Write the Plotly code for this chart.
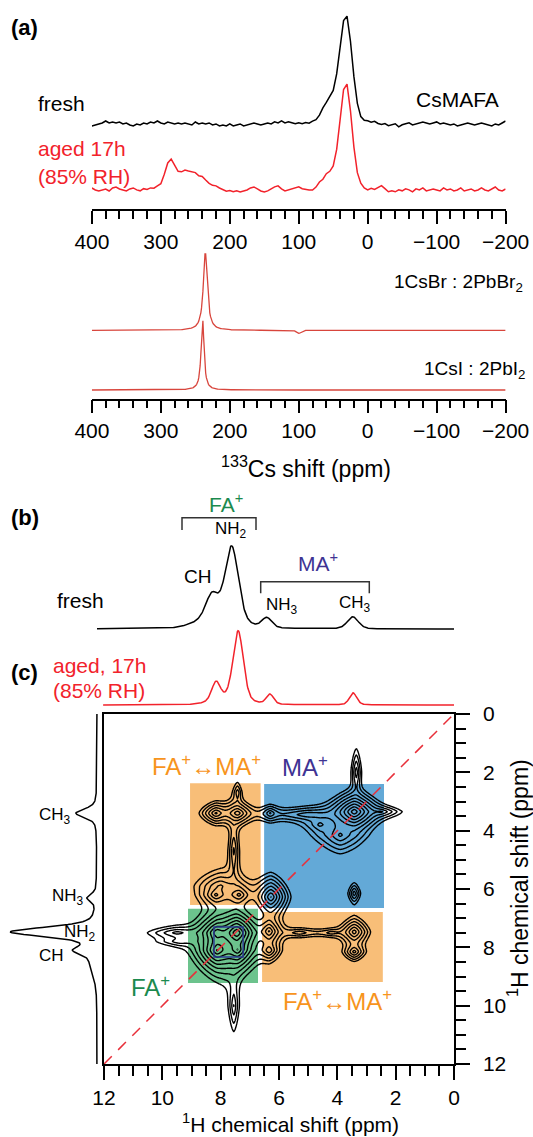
import numpy as np
import plotly.graph_objects as go

W, H = 533, 1137
FONT = "Liberation Sans, Arial, sans-serif"


def fx(px):
    return px / W


def fy(py):
    return 1 - py / H


# ------------------------------------------------------------------ data
# (a) 133Cs spectra, sampled every 5 ppm from 400 to -200 ppm
cs_ppm = np.linspace(400, -200, 121)
cs_fresh_noise = [
    -2, -1, 0, 1, 3, 1, 2, 1, 2, 0,
    1, -1, -2, 0, -1, 1, 0, 2, 1, 3,
    1, 0, 2, 1, 0, 1, 0, 1, 0, -1,
    2, 0, 1, 0, 1, -1, 0, -2, -1, -2,
    0, -2, -1, 0, -2, -1, 0, 1, 0, -1,
    0, 1, 0, 2, 1, 3, 1, 2, 1, 0,
    1, 0, 1, 0, 1, 0, 0, 1, 0, 1,
    0, 1, 0, 0, 0, 0, 0, 0, 0, 1,
    2, 1, 2, 0, -1, 0, -2, -1, 0, -3,
    -1, 0, 1, -1, 0, 1, 2, 1, 0, 1,
    2, 0, 1, 0, -1, 0, -2, -1, 0, 1,
    0, -1, 0, 1, 0, -1, -2, 0, -1, 1,
    3]
cs_aged_noise = [
    2, 0, -1, 0, 1, -1, 2, 3, 1, 0,
    -1, 1, 2, 0, -1, 1, 0, 1, 0, 1,
    0, 1, 0, 0, 1, 0, 0, 1, 0, 0,
    1, 0, 2, 1, 0, 0, 1, 0, -1, -2,
    -1, -2, -1, -2, -1, 0, 2, 3, 1, -1,
    -2, -1, 1, 3, 4, 1, -1, 0, 1, 2,
    3, 1, 0, -1, -2, -1, 1, 0, 2, 1,
    0, 0, 0, 0, 0, 0, 0, 0, 1, 0,
    -1, 1, 0, 2, 4, 1, -2, -1, -2, 0,
    -1, 1, 0, -2, 1, 0, 2, -1, 0, 1,
    0, -1, 2, 0, 1, -1, 0, 2, -1, 0,
    1, -1, 0, 2, 0, -1, 1, 3, 0, -1,
    1]
cs_fresh_center = [31.5, 55.0]
cs_fresh_fwhm = [21.0, 25.0]
cs_fresh_height = [108.0, 22.0]
cs_fresh_eta = [0.1, 0.0]

cs_aged_center = [31.5, 55.0, 287.0, 262.0]
cs_aged_fwhm = [20.0, 28.0, 14.0, 52.0]
cs_aged_height = [106.0, 14.0, 21.0, 19.0]
cs_aged_eta = [0.1, 0.0, 0.0, 0.0]

# reference salts, sampled every 1 ppm
ref_ppm = np.linspace(400, -200, 601)
csbr_center = [235.5, 100.0]
csbr_fwhm = [7.0, 8.0]
csbr_height = [78.0, -3.0]
csbr_eta = [1.0, 0.0]
csi_center = [239.5]
csi_fwhm = [5.0]
csi_height = [72.0]
csi_eta = [1.0]

# (b),(c) 1H spectra (ppm)
h_fresh_ppm = np.linspace(12.24, 0.0, 613)
h_fresh_center = [7.62, 8.30, 8.30, 6.42, 3.47]
h_fresh_fwhm = [0.55, 0.50, 1.40, 0.40, 0.45]
h_fresh_height = [78.0, 24.0, 8.0, 10.0, 12.0]
h_fresh_eta = [0.4, 0.3, 0.0, 0.3, 0.3]

h_aged_ppm = np.linspace(12.03, 0.0, 602)
h_aged_center = [7.40, 8.16, 7.80, 6.31, 3.46]
h_aged_fwhm = [0.42, 0.35, 1.20, 0.30, 0.30]
h_aged_height = [71.0, 19.0, 4.0, 10.0, 12.0]
h_aged_eta = [0.35, 0.3, 0.0, 0.3, 0.3]

# projection on the left of the 2D map
proj_ppm = np.linspace(0.0, 12.0, 601)
proj_center = [7.47, 8.10, 8.40, 6.30, 3.40]
proj_fwhm = [0.38, 0.30, 1.20, 0.30, 0.35]
proj_height = [85.0, 16.0, 6.0, 9.0, 21.0]
proj_eta = [0.5, 0.4, 0.0, 0.4, 0.6]

# 2D 1H-1H correlation peaks: position (ppm), widths (ppm), amplitude
pk_x = [7.45, 7.85, 8.12, 8.12, 7.42, 9.50, 9.40, 7.55,
        8.16, 7.37, 8.00,
        8.16, 7.42, 7.42, 7.55,
        6.30, 6.34, 6.34, 5.30, 4.20,
        6.28,
        3.42, 3.35, 2.50, 5.00, 3.90, 4.60,
        3.42, 3.42, 3.42]
pk_y = [7.50, 7.90, 8.10, 7.50, 8.08, 7.50, 7.80, 10.0,
        6.20, 6.20, 5.90,
        3.40, 3.40, 2.70, 4.70,
        3.40, 7.45, 8.10, 7.50, 7.50,
        6.27,
        3.35, 2.00, 3.35, 3.45, 4.15, 3.80,
        6.15, 7.47, 8.15]
pk_sx = [0.20, 0.45, 0.20, 0.20, 0.18, 0.60, 0.50, 0.12,
         0.20, 0.20, 0.45,
         0.22, 0.22, 0.10, 0.12,
         0.16, 0.17, 0.17, 0.50, 0.35,
         0.20,
         0.24, 0.10, 0.35, 0.90, 0.40, 0.30,
         0.12, 0.20, 0.18]
pk_sy = [0.20, 0.52, 0.20, 0.18, 0.20, 0.14, 0.12, 0.60,
         0.16, 0.16, 0.30,
         0.16, 0.16, 0.25, 0.70,
         0.14, 0.20, 0.17, 0.12, 0.10,
         0.24,
         0.19, 0.45, 0.10, 0.15, 0.32, 0.20,
         0.20, 0.20, 0.15]
pk_amp = [1.00, 0.10, 0.35, 0.30, 0.30, 0.04, 0.025, 0.035,
          0.09, 0.10, 0.05,
          0.10, 0.12, 0.03, 0.04,
          0.05, 0.15, 0.08, 0.03, 0.025,
          0.25,
          0.55, 0.05, 0.05, 0.05, 0.06, 0.03,
          0.05, 0.12, 0.07]

# rectangles (ppm): x0, x1, y0, y1
rect_x0 = [9.05, 6.51, 9.12, 6.58]
rect_x1 = [6.63, 2.40, 6.72, 2.44]
rect_y0 = [2.37, 2.40, 6.68, 6.79]
rect_y1 = [6.55, 6.65, 9.22, 9.19]
rect_col = ["#F8BE78", "#63A9D7", "#6CC38D", "#F8BE78"]


# ------------------------------------------------------------------ helpers
def lineshape(x, centers, fwhms, heights, etas):
    x = np.asarray(x, float)
    out = np.zeros_like(x)
    for c, w, h, e in zip(centers, fwhms, heights, etas):
        d = (x - c) / (w / 2.0)
        out += h * (e / (1 + d ** 2) + (1 - e) * np.exp(-np.log(2) * d ** 2))
    return out


def peak_map(X, Y, p=1.5):
    Z = np.zeros_like(X)
    for x0, y0, sx, sy, a in zip(pk_x, pk_y, pk_sx, pk_sy, pk_amp):
        r = ((np.abs(X - x0) / sx) ** p + (np.abs(Y - y0) / sy) ** p) ** (1.0 / p)
        Z += a * np.exp(-r)
    return Z


fig = go.Figure()
LW = 1.5
RED = "#F2222B"
REF_RED = "#D8453C"

# (a) top
fig.add_trace(go.Scatter(
    x=cs_ppm, y=124 - (np.array(cs_fresh_noise) + lineshape(cs_ppm, cs_fresh_center, cs_fresh_fwhm, cs_fresh_height, cs_fresh_eta)),
    xaxis="x", yaxis="y", mode="lines", line=dict(color="black", width=LW)))
fig.add_trace(go.Scatter(
    x=cs_ppm, y=190 - (np.array(cs_aged_noise) + lineshape(cs_ppm, cs_aged_center, cs_aged_fwhm, cs_aged_height, cs_aged_eta)),
    xaxis="x", yaxis="y", mode="lines", line=dict(color=RED, width=LW)))
# (a) bottom
fig.add_trace(go.Scatter(
    x=ref_ppm, y=330.4 - lineshape(ref_ppm, csbr_center, csbr_fwhm, csbr_height, csbr_eta),
    xaxis="x2", yaxis="y2", mode="lines", line=dict(color=REF_RED, width=1.3)))
fig.add_trace(go.Scatter(
    x=ref_ppm, y=390 - lineshape(ref_ppm, csi_center, csi_fwhm, csi_height, csi_eta),
    xaxis="x2", yaxis="y2", mode="lines", line=dict(color=REF_RED, width=1.3)))
# (b) fresh 1H
fig.add_trace(go.Scatter(
    x=h_fresh_ppm, y=629 - lineshape(h_fresh_ppm, h_fresh_center, h_fresh_fwhm, h_fresh_height, h_fresh_eta),
    xaxis="x4", yaxis="y4", mode="lines", line=dict(color="black", width=LW)))
# (c) aged 1H
fig.add_trace(go.Scatter(
    x=h_aged_ppm, y=705 - lineshape(h_aged_ppm, h_aged_center, h_aged_fwhm, h_aged_height, h_aged_eta),
    xaxis="x4", yaxis="y5", mode="lines", line=dict(color=RED, width=LW)))
# projection
fig.add_trace(go.Scatter(
    x=97 - lineshape(proj_ppm, proj_center, proj_fwhm, proj_height, proj_eta), y=proj_ppm,
    xaxis="x5", yaxis="y3", mode="lines", line=dict(color="black", width=LW)))

# 2D contour
g = np.linspace(0, 12, 481)
GX, GY = np.meshgrid(g, g)
Z = np.log(peak_map(GX, GY) + 1e-12)
fig.add_trace(go.Contour(
    x=g, y=g, z=Z, xaxis="x3", yaxis="y3",
    contours=dict(start=-4.8, end=-0.1, size=0.48, coloring="lines"),
    colorscale=[[0, "black"], [1, "black"]], showscale=False,
    line=dict(width=1.4, smoothing=1.0), hoverinfo="skip"))

# ------------------------------------------------------------------ axes
tick_common = dict(ticks="outside", tickcolor="black", tickwidth=1.5, showline=True,
                   linecolor="black", linewidth=1.5, showgrid=False, zeroline=False,
                   automargin=False,
                   tickfont=dict(family=FONT, size=21, color="black"))

a_ax = dict(range=[400, -200], dtick=100, tick0=0, ticklen=13,
            minor=dict(dtick=20, tick0=0, ticks="outside", ticklen=8, tickwidth=1.5, tickcolor="black", showgrid=False),
            **tick_common)
hide = dict(visible=False, automargin=False)

layout = dict(
    width=W, height=H, margin=dict(l=0, r=0, t=0, b=0, pad=0, autoexpand=False), autosize=False,
    paper_bgcolor="white", plot_bgcolor="rgba(0,0,0,0)", showlegend=False,
    xaxis=dict(domain=[fx(91.9), fx(505.6)], anchor="y", **a_ax),
    yaxis=dict(domain=[fy(209.4), 1.0], range=[209.4, 0], anchor="x", **hide),
    xaxis2=dict(domain=[fx(91.9), fx(505.6)], anchor="y2", **a_ax),
    yaxis2=dict(domain=[fy(398.5), fy(240)], range=[398.5, 240], anchor="x2", **hide),
    xaxis3=dict(domain=[fx(104), fx(454)], range=[12, 0], anchor="y3", dtick=2, tick0=0, ticklen=14,
                mirror=True, ticklabelstandoff=0,
                minor=dict(dtick=0.5, tick0=0, ticks="outside", ticklen=10, tickwidth=1.5, tickcolor="black", showgrid=False),
                **tick_common),
    yaxis3=dict(domain=[fy(1064), fy(714)], range=[12, 0], anchor="x3", side="right", dtick=2, tick0=0,
                ticklen=14, mirror=True, ticklabelstandoff=9,
                minor=dict(dtick=0.5, tick0=0, ticks="outside", ticklen=10, tickwidth=1.5, tickcolor="black", showgrid=False),
                **tick_common),
    xaxis4=dict(domain=[fx(97), fx(454)], range=[12.24, 0], anchor="y4", **hide),
    yaxis4=dict(domain=[fy(645), fy(495)], range=[645, 495], anchor="x4", **hide),
    yaxis5=dict(domain=[fy(712), fy(615)], range=[712, 615], anchor="x4", **hide),
    xaxis5=dict(domain=[0, fx(104)], range=[0, 104], anchor="y3", **hide),
)
fig.update_layout(**layout)

# ------------------------------------------------------------------ shapes
shapes = []
for x0, x1, y0, y1, c in zip(rect_x0, rect_x1, rect_y0, rect_y1, rect_col):
    shapes.append(dict(type="rect", xref="x3", yref="y3", x0=x0, x1=x1, y0=y0, y1=y1,
                       fillcolor=c, line=dict(width=0), layer="below"))
shapes.append(dict(type="rect", xref="x3", yref="y3", x0=8.23, x1=7.23, y0=7.30, y1=8.33,
                   line=dict(color="#2B3A92", width=1.5), fillcolor="rgba(0,0,0,0)", layer="above"))
shapes.append(dict(type="line", xref="x3", yref="y3", x0=12, y0=12, x1=0, y1=0,
                   line=dict(color="#E8303A", width=1.5, dash="11px,9px"), layer="above"))


def bracket(xl, xr, ytop, ybot):
    return dict(type="path", xref="paper", yref="paper",
                path=f"M {fx(xl)},{fy(ybot)} L {fx(xl)},{fy(ytop)} L {fx(xr)},{fy(ytop)} L {fx(xr)},{fy(ybot)}",
                line=dict(color="#333333", width=1.5))


shapes.append(bracket(182, 256, 517.8, 530))
shapes.append(bracket(260.7, 369.3, 581.7, 593.3))
fig.update_layout(shapes=shapes)

# ------------------------------------------------------------------ text
ORANGE = "#F7941D"
GREEN = "#1B8A4E"
PURPLE = "#3E3393"


def ann(px, py, text, size=21, color="black", xanchor="center", angle=0, yanchor="middle"):
    return dict(x=fx(px), y=fy(py), xref="paper", yref="paper", text=text, showarrow=False,
                xanchor=xanchor, yanchor=yanchor, textangle=angle, borderpad=0,
                font=dict(family=FONT, size=size, color=color))


anns = [
    ann(10, 27, "<b>(a)</b>", 22, xanchor="left"),
    ann(37, 104, "fresh", 21, xanchor="left"),
    ann(500, 99, "CsMAFA", 21, xanchor="right"),
    ann(37, 148, "aged 17h", 21, RED, xanchor="left"),
    ann(37, 177, "(85% RH)", 21, RED, xanchor="left"),
    ann(524, 283, "1CsBr : 2PbBr<sub>2</sub>", 19, xanchor="right"),
    ann(526, 370, "1CsI : 2PbI<sub>2</sub>", 19, xanchor="right"),
    ann(306, 467, "<sup>133</sup>Cs shift (ppm)", 23),
    ann(10, 517, "<b>(b)</b>", 22, xanchor="left"),
    ann(226, 503, "FA<sup>+</sup>", 21, GREEN),
    ann(231, 530, "NH<sub>2</sub>", 17),
    ann(197, 576, "CH", 19),
    ann(80, 600, "fresh", 21),
    ann(318, 562, "MA<sup>+</sup>", 21, PURPLE),
    ann(282, 606, "NH<sub>3</sub>", 17),
    ann(355, 604, "CH<sub>3</sub>", 17),
    ann(10, 672, "<b>(c)</b>", 22, xanchor="left"),
    ann(52, 665, "aged, 17h", 21, RED, xanchor="left"),
    ann(52, 690, "(85% RH)", 21, RED, xanchor="left"),
    ann(55, 816, "CH<sub>3</sub>", 17),
    ann(68, 897, "NH<sub>3</sub>", 17),
    ann(80, 933, "NH<sub>2</sub>", 17),
    ann(51, 955, "CH", 17),
    ann(206, 765, "FA<sup>+</sup>↔MA<sup>+</sup>", 24, ORANGE),
    ann(305, 766, "MA<sup>+</sup>", 24, PURPLE),
    ann(150, 986, "FA<sup>+</sup>", 24, GREEN),
    ann(337, 1000, "FA<sup>+</sup>↔MA<sup>+</sup>", 24, ORANGE),
    ann(290, 1137, "<sup>1</sup>H chemical shift (ppm)", 21, yanchor="bottom"),
    ann(518, 878, "<sup>1</sup>H chemical shift (ppm)", 23, angle=-90),
]
fig.update_layout(annotations=anns)

fig.write_html("out.html")
